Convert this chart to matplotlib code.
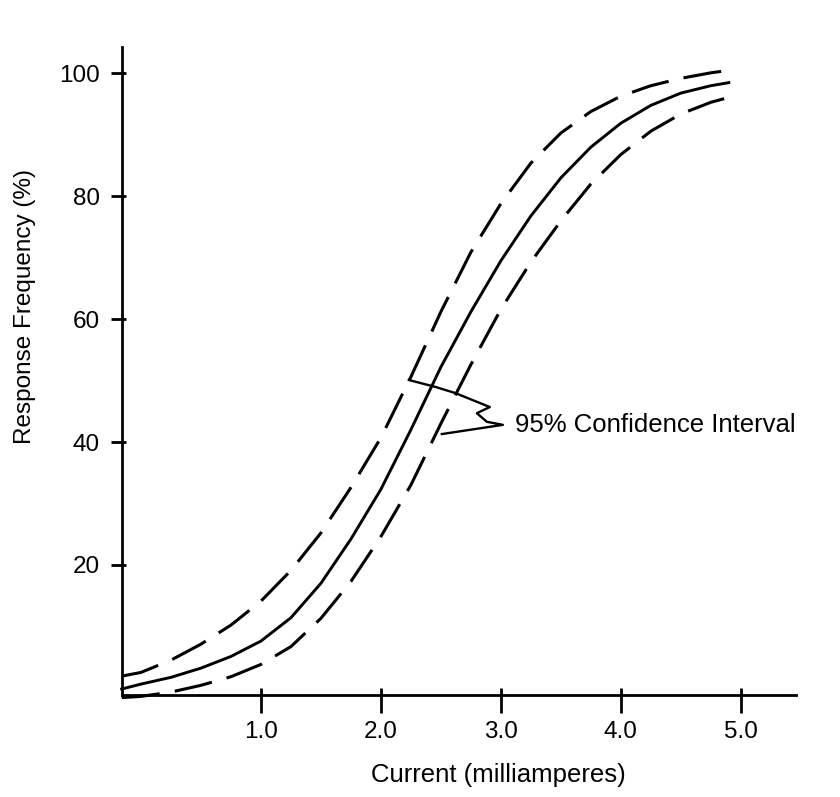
import matplotlib
matplotlib.use("Agg")
import matplotlib.pyplot as plt

# values (current in mA, response frequency in %)
current = [-0.16, 0.0, 0.25, 0.5, 0.75, 1.0, 1.25, 1.5, 1.75, 2.0, 2.25,
           2.5, 2.75, 3.0, 3.25, 3.5, 3.75, 4.0, 4.25, 4.5, 4.75, 4.9]
response = [-0.2, 0.6, 1.7, 3.2, 5.1, 7.6, 11.4, 17.0, 24.2, 32.3, 42.0,
            52.2, 61.2, 69.5, 76.8, 83.0, 88.0, 91.9, 94.8, 96.8, 98.0, 98.5]
upper_ci = [1.9, 2.5, 4.5, 7.1, 10.2, 14.1, 19.1, 25.2, 32.6, 40.7, 50.6,
            61.2, 70.9, 78.8, 85.4, 90.3, 93.8, 96.3, 98.0, 99.2, 100.1, 100.5]
lower_ci = [-1.6, -1.4, -0.7, 0.4, 1.8, 3.8, 6.7, 11.3, 17.3, 24.6, 33.0,
            43.0, 52.6, 61.6, 69.3, 76.0, 82.0, 86.8, 90.6, 93.4, 95.3, 96.1]

x_ticks = [1.0, 2.0, 3.0, 4.0, 5.0]
y_ticks = [20, 40, 60, 80, 100]

ci_label = "95% Confidence Interval"

plt.rcParams["font.family"] = ["Liberation Sans", "DejaVu Sans"]

fig = plt.figure(figsize=(8.4, 7.97), dpi=100)
ax = fig.add_axes([0.1452, 0.128, 0.8024, 0.813])

dash = (0, (12.5, 5.0))
ax.plot(current, response, color="black", lw=2.1, clip_on=False)
ax.plot(current, upper_ci, color="black", lw=2.2, linestyle=dash, clip_on=False)
ax.plot(current, lower_ci, color="black", lw=2.2, linestyle=dash, clip_on=False)

# hand-drawn style leader from the label to both bands
leader_x = [2.233, 2.45, 2.617, 2.908, 2.80, 2.883, 3.017, 2.508]
leader_y = [50.1, 49.0, 48.0, 45.7, 44.7, 43.3, 42.8, 41.3]
ax.plot(leader_x, leader_y, color="black", lw=1.7)
ax.text(3.12, 42.8, ci_label, fontsize=18.5, va="center", ha="left")

ax.set_xlim(-0.158, 5.46)
ax.set_ylim(-1.17, 104.3)

ax.set_xticks(x_ticks)
ax.set_xticklabels([f"{v:.1f}" for v in x_ticks])
ax.set_yticks(y_ticks)
ax.set_yticklabels([str(v) for v in y_ticks])

# ticks poke a little into the plot as well
ax.xaxis.remove_overlapping_locs = False
ax.yaxis.remove_overlapping_locs = False
ax.set_xticks(x_ticks, minor=True)
ax.set_yticks(y_ticks, minor=True)
ax.tick_params(axis="x", which="major", direction="out", length=13, width=2,
               pad=6, labelsize=17.5)
ax.tick_params(axis="x", which="minor", direction="in", length=5, width=2)
ax.tick_params(axis="y", which="major", direction="out", length=8, width=2,
               pad=8, labelsize=17.5)
ax.tick_params(axis="y", which="minor", direction="in", length=3, width=2)

for side in ("top", "right"):
    ax.spines[side].set_visible(False)
for side in ("left", "bottom"):
    ax.spines[side].set_linewidth(2)

ax.set_xlabel("Current (milliamperes)", fontsize=18.5, labelpad=14)
ax.xaxis.set_label_coords(0.558, -0.105)
ax.set_ylabel("Response Frequency (%)", fontsize=17.5, labelpad=16)
ax.yaxis.set_label_coords(-0.127, 0.60)

fig.savefig("out.png", dpi=100)
